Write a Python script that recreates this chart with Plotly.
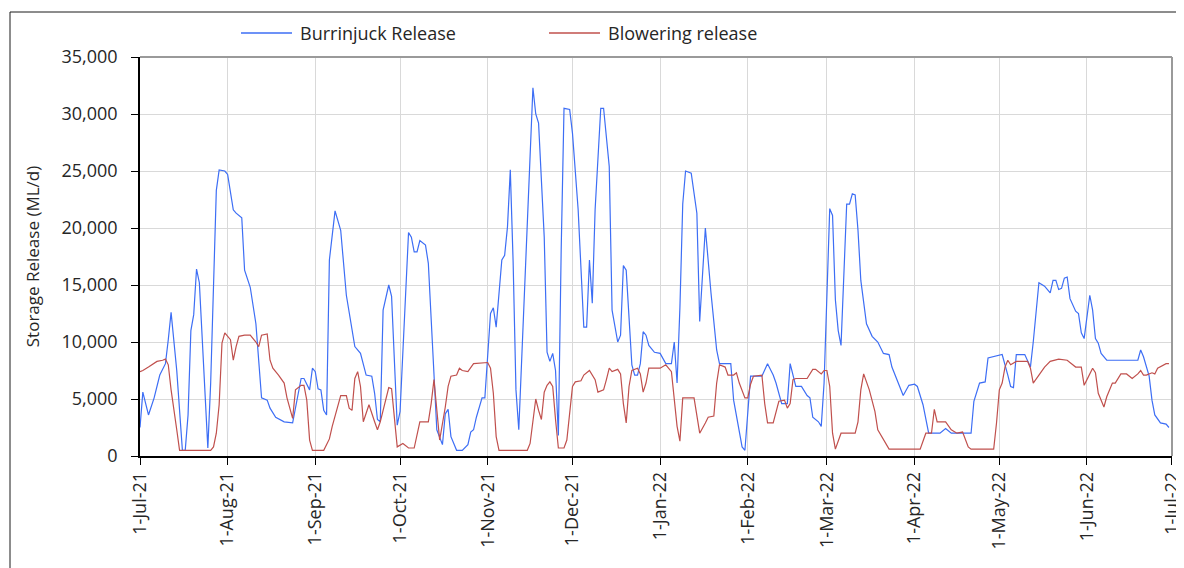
import plotly.graph_objects as go

# ---------------- data ----------------
burrinjuck_dates = [
    "2021-07-01","2021-07-02","2021-07-04","2021-07-06","2021-07-08","2021-07-10","2021-07-11","2021-07-12",
    "2021-07-14","2021-07-16","2021-07-17","2021-07-18","2021-07-19","2021-07-20","2021-07-21","2021-07-22",
    "2021-07-25","2021-07-26","2021-07-28","2021-07-29","2021-07-31","2021-08-01","2021-08-03","2021-08-04",
    "2021-08-06","2021-08-07","2021-08-09","2021-08-11","2021-08-13","2021-08-15","2021-08-16","2021-08-18",
    "2021-08-21","2021-08-24","2021-08-27","2021-08-28","2021-08-30","2021-08-31","2021-09-01","2021-09-02",
    "2021-09-03","2021-09-04","2021-09-05","2021-09-06","2021-09-08","2021-09-10","2021-09-12","2021-09-15",
    "2021-09-17","2021-09-19","2021-09-21","2021-09-22","2021-09-23","2021-09-24","2021-09-25","2021-09-27",
    "2021-09-28","2021-09-30","2021-10-01","2021-10-04","2021-10-05","2021-10-06","2021-10-07","2021-10-08",
    "2021-10-10","2021-10-11","2021-10-14","2021-10-16","2021-10-17","2021-10-18","2021-10-19","2021-10-21",
    "2021-10-23","2021-10-25","2021-10-26","2021-10-27","2021-10-28","2021-10-30","2021-10-31","2021-11-02",
    "2021-11-03","2021-11-04","2021-11-06","2021-11-07","2021-11-08","2021-11-09","2021-11-10","2021-11-11",
    "2021-11-12","2021-11-16","2021-11-17","2021-11-18","2021-11-19","2021-11-21","2021-11-22","2021-11-23",
    "2021-11-24","2021-11-25","2021-11-26","2021-11-27","2021-11-28","2021-11-30","2021-12-01","2021-12-03",
    "2021-12-05","2021-12-06","2021-12-07","2021-12-08","2021-12-09","2021-12-11","2021-12-12","2021-12-14",
    "2021-12-15","2021-12-17","2021-12-18","2021-12-19","2021-12-20","2021-12-22","2021-12-23","2021-12-24",
    "2021-12-25","2021-12-26","2021-12-27","2021-12-28","2021-12-30","2022-01-01","2022-01-03","2022-01-05",
    "2022-01-06","2022-01-07","2022-01-08","2022-01-09","2022-01-10","2022-01-12","2022-01-14","2022-01-15",
    "2022-01-17","2022-01-19","2022-01-21","2022-01-22","2022-01-26","2022-01-27","2022-01-29","2022-01-30",
    "2022-01-31","2022-02-01","2022-02-02","2022-02-04","2022-02-06","2022-02-08","2022-02-10","2022-02-11",
    "2022-02-13","2022-02-15","2022-02-16","2022-02-18","2022-02-20","2022-02-22","2022-02-23","2022-02-24",
    "2022-02-26","2022-02-27","2022-02-28","2022-03-02","2022-03-03","2022-03-04","2022-03-05","2022-03-06",
    "2022-03-07","2022-03-08","2022-03-09","2022-03-10","2022-03-11","2022-03-12","2022-03-13","2022-03-15",
    "2022-03-17","2022-03-19","2022-03-21","2022-03-23","2022-03-24","2022-03-26","2022-03-28","2022-03-30",
    "2022-04-01","2022-04-02","2022-04-04","2022-04-06","2022-04-10","2022-04-12","2022-04-14","2022-04-21",
    "2022-04-22","2022-04-24","2022-04-26","2022-04-27","2022-05-01","2022-05-02","2022-05-04","2022-05-05",
    "2022-05-06","2022-05-07","2022-05-10","2022-05-11","2022-05-12","2022-05-13","2022-05-15","2022-05-17",
    "2022-05-19","2022-05-20","2022-05-21","2022-05-22","2022-05-23","2022-05-24","2022-05-25","2022-05-26",
    "2022-05-28","2022-05-29","2022-05-30","2022-05-31","2022-06-02","2022-06-03","2022-06-04","2022-06-05",
    "2022-06-06","2022-06-08","2022-06-19","2022-06-20","2022-06-21","2022-06-23","2022-06-24","2022-06-25",
    "2022-06-27","2022-06-29","2022-06-30",
]
burrinjuck_release = [
    2500, 5600, 3600, 5100, 7100, 8100, 10200, 12600,
    7500, 500, 500, 3600, 11000, 12400, 16400, 15200,
    700, 6400, 23300, 25100, 25000, 24700, 21600, 21300,
    20900, 16300, 14800, 11600, 5100, 4900, 4200, 3400,
    3000, 2900, 6800, 6800, 5800, 7700, 7400, 5900,
    5800, 4000, 3600, 17200, 21500, 19800, 14100, 9600,
    9000, 7100, 7000, 5500, 3200, 3000, 12800, 15000,
    14000, 2700, 3900, 19600, 19200, 17900, 17900, 18900,
    18500, 16900, 2300, 1000, 3700, 4100, 1700, 500,
    500, 1000, 2100, 2300, 3400, 5100, 5100, 12500,
    13000, 11300, 17200, 17600, 20100, 25100, 17000, 5800,
    2300, 25900, 32300, 30000, 29200, 19200, 9100, 8300,
    9000, 7500, 1800, 18100, 30500, 30400, 28300, 21600,
    11300, 11300, 17200, 13400, 21600, 30500, 30500, 25400,
    12800, 10000, 10600, 16700, 16300, 8000, 7100, 7100,
    8100, 10900, 10600, 9700, 9100, 9000, 8100, 8100,
    10000, 6400, 13000, 22100, 25000, 24800, 21300, 11800,
    20000, 14300, 9300, 8100, 8100, 4900, 2000, 800,
    500, 3400, 7000, 7000, 7000, 8100, 7100, 6400,
    4600, 4600, 8100, 6100, 6100, 5300, 5100, 3400,
    3000, 2600, 6400, 21700, 21100, 13700, 11000, 9700,
    16300, 22100, 22100, 23000, 22900, 19800, 15400, 11600,
    10500, 10000, 9000, 8900, 7800, 6500, 5300, 6200,
    6300, 6100, 4500, 2000, 2000, 2400, 2000, 2000,
    4800, 6400, 6500, 8600, 8800, 8900, 7100, 6100,
    6000, 8900, 8900, 8300, 7800, 10000, 15200, 14900,
    14300, 15400, 15400, 14600, 14700, 15600, 15700, 13800,
    12700, 12500, 10800, 10300, 14100, 12800, 10300, 9900,
    9000, 8400, 8400, 9300, 8700, 7000, 4900, 3600,
    2900, 2800, 2500,
]

blowering_dates = [
    "2021-07-01","2021-07-02","2021-07-04","2021-07-06","2021-07-07","2021-07-09","2021-07-10","2021-07-11",
    "2021-07-12","2021-07-14","2021-07-15","2021-07-26","2021-07-27","2021-07-28","2021-07-29","2021-07-30",
    "2021-07-31","2021-08-02","2021-08-03","2021-08-04","2021-08-05","2021-08-07","2021-08-09","2021-08-11",
    "2021-08-12","2021-08-13","2021-08-15","2021-08-16","2021-08-17","2021-08-19","2021-08-21","2021-08-22",
    "2021-08-24","2021-08-25","2021-08-27","2021-08-28","2021-08-29","2021-08-30","2021-08-31","2021-09-04",
    "2021-09-06","2021-09-07","2021-09-09","2021-09-10","2021-09-12","2021-09-13","2021-09-14","2021-09-15",
    "2021-09-16","2021-09-17","2021-09-18","2021-09-19","2021-09-20","2021-09-22","2021-09-23","2021-09-24",
    "2021-09-26","2021-09-27","2021-09-28","2021-09-29","2021-09-30","2021-10-02","2021-10-04","2021-10-06",
    "2021-10-08","2021-10-11","2021-10-12","2021-10-13","2021-10-14","2021-10-15","2021-10-17","2021-10-18",
    "2021-10-19","2021-10-21","2021-10-22","2021-10-23","2021-10-25","2021-10-26","2021-10-27","2021-11-01",
    "2021-11-02","2021-11-03","2021-11-04","2021-11-05","2021-11-15","2021-11-16","2021-11-18","2021-11-19",
    "2021-11-20","2021-11-21","2021-11-22","2021-11-23","2021-11-24","2021-11-25","2021-11-26","2021-11-28",
    "2021-11-29","2021-12-01","2021-12-02","2021-12-04","2021-12-05","2021-12-07","2021-12-09","2021-12-10",
    "2021-12-12","2021-12-13","2021-12-14","2021-12-15","2021-12-17","2021-12-18","2021-12-19","2021-12-20",
    "2021-12-21","2021-12-22","2021-12-24","2021-12-25","2021-12-26","2021-12-27","2021-12-28","2022-01-01",
    "2022-01-03","2022-01-05","2022-01-06","2022-01-07","2022-01-08","2022-01-09","2022-01-13","2022-01-14",
    "2022-01-15","2022-01-17","2022-01-18","2022-01-20","2022-01-21","2022-01-22","2022-01-24","2022-01-25",
    "2022-01-27","2022-01-28","2022-01-29","2022-01-31","2022-02-01","2022-02-02","2022-02-03","2022-02-06",
    "2022-02-07","2022-02-08","2022-02-10","2022-02-12","2022-02-14","2022-02-15","2022-02-16","2022-02-17",
    "2022-02-18","2022-02-22","2022-02-24","2022-02-25","2022-02-27","2022-02-28","2022-03-01","2022-03-02",
    "2022-03-03","2022-03-04","2022-03-05","2022-03-06","2022-03-11","2022-03-12","2022-03-13","2022-03-14",
    "2022-03-16","2022-03-18","2022-03-19","2022-03-21","2022-03-23","2022-04-03","2022-04-05","2022-04-07",
    "2022-04-08","2022-04-09","2022-04-12","2022-04-14","2022-04-16","2022-04-18","2022-04-20","2022-04-21",
    "2022-04-29","2022-04-30","2022-05-01","2022-05-02","2022-05-03","2022-05-04","2022-05-05","2022-05-07",
    "2022-05-11","2022-05-12","2022-05-13","2022-05-15","2022-05-17","2022-05-19","2022-05-22","2022-05-25",
    "2022-05-28","2022-05-30","2022-05-31","2022-06-01","2022-06-03","2022-06-04","2022-06-05","2022-06-07",
    "2022-06-08","2022-06-10","2022-06-11","2022-06-13","2022-06-15","2022-06-17","2022-06-19","2022-06-20",
    "2022-06-21","2022-06-22","2022-06-24","2022-06-25","2022-06-26","2022-06-29","2022-06-30",
]
blowering_release = [
    7400, 7500, 7800, 8100, 8300, 8400, 8500, 8000,
    5800, 2300, 500, 500, 800, 2000, 4500, 9900,
    10800, 10200, 8400, 9600, 10500, 10600, 10600, 10000,
    9600, 10600, 10700, 8400, 7700, 7100, 6400, 5100,
    3300, 5800, 6200, 6200, 4900, 1400, 500, 500,
    1500, 2600, 4500, 5300, 5300, 4200, 4000, 6800,
    7400, 6100, 3000, 3700, 4500, 3000, 2300, 3000,
    5100, 6000, 5900, 3200, 800, 1100, 700, 700,
    3000, 3000, 4600, 6700, 4000, 1400, 4300, 6100,
    7000, 7100, 7700, 7500, 7400, 7700, 8100, 8200,
    7700, 5500, 1700, 500, 500, 1100, 5000, 4000,
    3200, 5600, 6200, 6500, 6100, 3200, 700, 700,
    1400, 6100, 6500, 6600, 7100, 7500, 6700, 5600,
    5800, 6700, 7700, 7400, 7600, 7200, 4600, 2900,
    6100, 7500, 7700, 7200, 5600, 6400, 7700, 7700,
    8000, 7400, 4900, 2600, 1300, 5100, 5100, 3400,
    2000, 2900, 3400, 3500, 6400, 8000, 7800, 7100,
    7100, 7300, 6400, 5100, 5100, 6300, 7000, 7100,
    4600, 2900, 2900, 4800, 4900, 4200, 4600, 6700,
    6800, 6800, 7600, 7600, 7200, 7500, 7500, 6100,
    2000, 600, 1400, 2000, 2000, 3000, 5800, 7200,
    5800, 3900, 2300, 1500, 600, 600, 2000, 2000,
    4100, 3000, 3000, 2300, 2000, 2100, 800, 600,
    600, 2900, 5800, 6400, 7800, 8400, 8000, 8300,
    8300, 7700, 6400, 7100, 7800, 8300, 8500, 8400,
    7800, 7800, 6200, 6700, 7700, 7300, 5500, 4300,
    5200, 6400, 6400, 7200, 7200, 6800, 7200, 7500,
    7100, 7100, 7300, 7200, 7700, 8100, 8100,
]

series_names = ["Burrinjuck Release", "Blowering release"]
y_title = "Storage Release (ML/d)"
x_range = ["2021-07-01", "2022-07-01 02:00"]
y_range = [0, 35000]

# ---------------- styling ----------------
FONT = "Open Sans"
TXT = "#262626"
BLUE = "#3d6ef5"
RED = "#c0504d"

fig = go.Figure()
fig.add_trace(go.Scatter(x=burrinjuck_dates, y=burrinjuck_release, mode="lines",
                         name=series_names[0], line=dict(color=BLUE, width=1.2),
                         showlegend=False))
fig.add_trace(go.Scatter(x=blowering_dates, y=blowering_release, mode="lines",
                         name=series_names[1], line=dict(color=RED, width=1.2),
                         showlegend=False))

# page body has an 8px margin; size the figure so it fills the 1184x568 window
OFF = 8
W, H = 1184 - OFF, 568 - OFF
L, R, T, B = 140 - OFF, 12, 57 - OFF, 568 - 456
pw, ph = W - L - R, H - T - B

def px_x(px):  # page pixel -> paper coordinate
    return (px - OFF - L) / pw

def px_y(py):
    return (H - B - (py - OFF)) / ph

shapes = [
    # outer chart border
    dict(type="rect", xref="paper", yref="paper", x0=px_x(10), x1=px_x(1200),
         y0=px_y(590), y1=px_y(12), line=dict(color="#1a1a1a", width=1), layer="below"),
    # plot area border (top / right, grey)
    dict(type="line", xref="paper", yref="paper", x0=0, x1=1, y0=1, y1=1,
         line=dict(color="#9a9a9a", width=2)),
    dict(type="line", xref="paper", yref="paper", x0=1, x1=1, y0=0, y1=1,
         line=dict(color="#9a9a9a", width=2)),
    # custom legend samples
    dict(type="line", xref="paper", yref="paper", x0=px_x(241), x1=px_x(292),
         y0=px_y(33), y1=px_y(33), line=dict(color=BLUE, width=1.3)),
    dict(type="line", xref="paper", yref="paper", x0=px_x(549), x1=px_x(600),
         y0=px_y(33), y1=px_y(33), line=dict(color=RED, width=1.3)),
]
annotations = [
    dict(text=series_names[0], xref="paper", yref="paper", x=px_x(298), y=px_y(33),
         xanchor="left", yanchor="middle", showarrow=False,
         font=dict(family=FONT, size=18, color=TXT)),
    dict(text=series_names[1], xref="paper", yref="paper", x=px_x(606), y=px_y(33),
         xanchor="left", yanchor="middle", showarrow=False,
         font=dict(family=FONT, size=18, color=TXT)),
]

fig.update_layout(
    width=W, height=H,
    margin=dict(l=L, r=R, t=T, b=B, autoexpand=False),
    paper_bgcolor="white", plot_bgcolor="white",
    font=dict(family=FONT, size=18, color=TXT),
    shapes=shapes, annotations=annotations,
    showlegend=False,
)
fig.update_xaxes(
    type="date", range=x_range,
    dtick="M1", tick0="2021-07-01", tickformat="%-d-%b-%y", tickangle=-90,
    ticklabeloverflow="allow",
    showgrid=True, gridcolor="#d9d9d9", gridwidth=1,
    showline=True, linecolor="#000000", linewidth=1.5,
    ticks="outside", ticklen=7, tickcolor="#000000", tickwidth=1.3,
    tickfont=dict(family=FONT, size=18, color=TXT),
    zeroline=False, automargin=False,
)
fig.update_yaxes(
    range=y_range, dtick=5000, tickformat=",d",
    showgrid=True, gridcolor="#d9d9d9", gridwidth=1,
    showline=True, linecolor="#000000", linewidth=1.5,
    ticks="outside", ticklen=7, tickcolor="#000000", tickwidth=1.3,
    ticklabelstandoff=10,
    tickfont=dict(family=FONT, size=18, color=TXT),
    title=dict(text=y_title, standoff=18, font=dict(family=FONT, size=17, color=TXT)),
    zeroline=False, automargin=False,
)

fig.write_html("out.html")
